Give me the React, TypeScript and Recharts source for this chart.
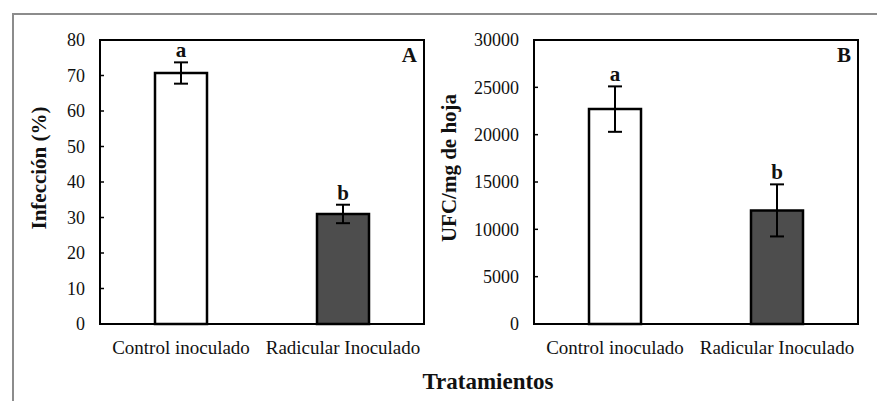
import React from 'react';
import { BarChart, Bar, XAxis, YAxis, ErrorBar, Cell, LabelList, ReferenceArea } from 'recharts';

const categories = ['Control inoculado', 'Radicular Inoculado'];
const infeccion = [70.7, 31.0];
const infeccionErr = [3.0, 2.6];
const infeccionLetters = ['a', 'b'];
const ufc = [22700, 12000];
const ufcErr = [2400, 2750];
const ufcLetters = ['a', 'b'];
const barColors = ['#ffffff', '#4d4d4d'];
const ticksA = [0, 10, 20, 30, 40, 50, 60, 70, 80];
const ticksB = [0, 5000, 10000, 15000, 20000, 25000, 30000];

const FONT = '"Liberation Serif", "Times New Roman", serif';

const dataA = categories.map((name, i) => ({ name, value: infeccion[i], err: infeccionErr[i], letter: infeccionLetters[i] }));
const dataB = categories.map((name, i) => ({ name, value: ufc[i], err: ufcErr[i], letter: ufcLetters[i] }));

const TICK_MARGIN_Y = 15;

const YTick = (props: any) => {
  const { x, y, payload } = props;
  return (
    <g>
      <text x={x} y={y} dy="0.35em" textAnchor="end" fontFamily={FONT} fontSize={18} fill="#111">
        {payload.value}
      </text>
      <line x1={x + TICK_MARGIN_Y} x2={x + TICK_MARGIN_Y + 4} y1={y} y2={y} stroke="#000" strokeWidth={1.5} />
    </g>
  );
};

const makeLetter = (rows: any[]) => (props: any) => {
  const { x, y, width, height, index } = props;
  const row = rows[index];
  if (!row) return null;
  const errPx = (height / row.value) * row.err;
  return (
    <text
      x={x + width / 2}
      y={y - errPx - 5}
      textAnchor="middle"
      fontFamily={FONT}
      fontWeight="bold"
      fontSize={21}
      fill="#111"
    >
      {row.letter}
    </text>
  );
};

const yTitle = (text: string, cx: number, cy: number) => () => (
  <text
    transform={`translate(${cx},${cy}) rotate(-90)`}
    textAnchor="middle"
    dominantBaseline="central"
    fontFamily={FONT}
    fontWeight="bold"
    fontSize={21}
    fill="#111"
  >
    {text}
  </text>
);

const Panel = ({ data, ticks, max, title, titleX, panel, width, left, right }: any) => (
  <BarChart
    width={width}
    height={401}
    data={data}
    margin={{ top: 40, right, left, bottom: 47 }}
    barSize={52}
  >
    <XAxis
      dataKey="name"
      height={30}
      axisLine={{ stroke: '#000', strokeWidth: 2 }}
      tickLine={false}
      tickSize={0}
      tickMargin={17}
      tick={{ fontFamily: FONT, fontSize: 19, fill: '#111' }}
      interval={0}
    />
    <YAxis
      type="number"
      domain={[0, max]}
      ticks={ticks}
      width={60}
      axisLine={{ stroke: '#000', strokeWidth: 2 }}
      tickLine={false}
      tickSize={0}
      tickMargin={TICK_MARGIN_Y}
      tick={<YTick />}
      interval={0}
      label={{ content: yTitle(title, titleX, 168) }}
    />
    <ReferenceArea
      x1={categories[0]}
      x2={categories[categories.length - 1]}
      y1={0}
      y2={max}
      fill="none"
      stroke="#000"
      strokeWidth={2}
      ifOverflow="visible"
      label={{ value: panel, position: 'insideTopRight', offset: 7, fontFamily: FONT, fontWeight: 'bold', fontSize: 21, fill: '#111' }}
    />
    <Bar dataKey="value" stroke="#000" strokeWidth={2.5} isAnimationActive={false}>
      {data.map((d: any, i: number) => (
        <Cell key={d.name} fill={barColors[i]} />
      ))}
      <ErrorBar dataKey="err" width={7} stroke="#000" strokeWidth={2} direction="y" />
      <LabelList dataKey="letter" content={makeLetter(data)} />
    </Bar>
  </BarChart>
);

export default function App() {
  return (
    <div style={{ position: 'absolute', left: 0, top: 0, width: 877, height: 401, background: '#ffffff', overflow: 'hidden' }}>
      <div style={{ position: 'absolute', left: 12, top: 13, width: 900, height: 420, borderTop: '2px solid #8c8c8c', borderLeft: '2px solid #8c8c8c' }} />
      <div style={{ position: 'absolute', left: 0, top: 0 }}>
        <Panel data={dataA} ticks={ticksA} max={80} title="Infección (%)" titleX={39} panel="A" width={430} left={40} right={6} />
      </div>
      <div style={{ position: 'absolute', left: 430, top: 0 }}>
        <Panel data={dataB} ticks={ticksB} max={30000} title="UFC/mg de hoja" titleX={19} panel="B" width={447} left={44} right={19} />
      </div>
      <svg width={877} height={401} style={{ position: 'absolute', left: 0, top: 0, pointerEvents: 'none' }}>
        <text x={488} y={381} textAnchor="middle" dominantBaseline="central" fontFamily={FONT} fontWeight="bold" fontSize={23} fill="#111">
          Tratamientos
        </text>
      </svg>
    </div>
  );
}
